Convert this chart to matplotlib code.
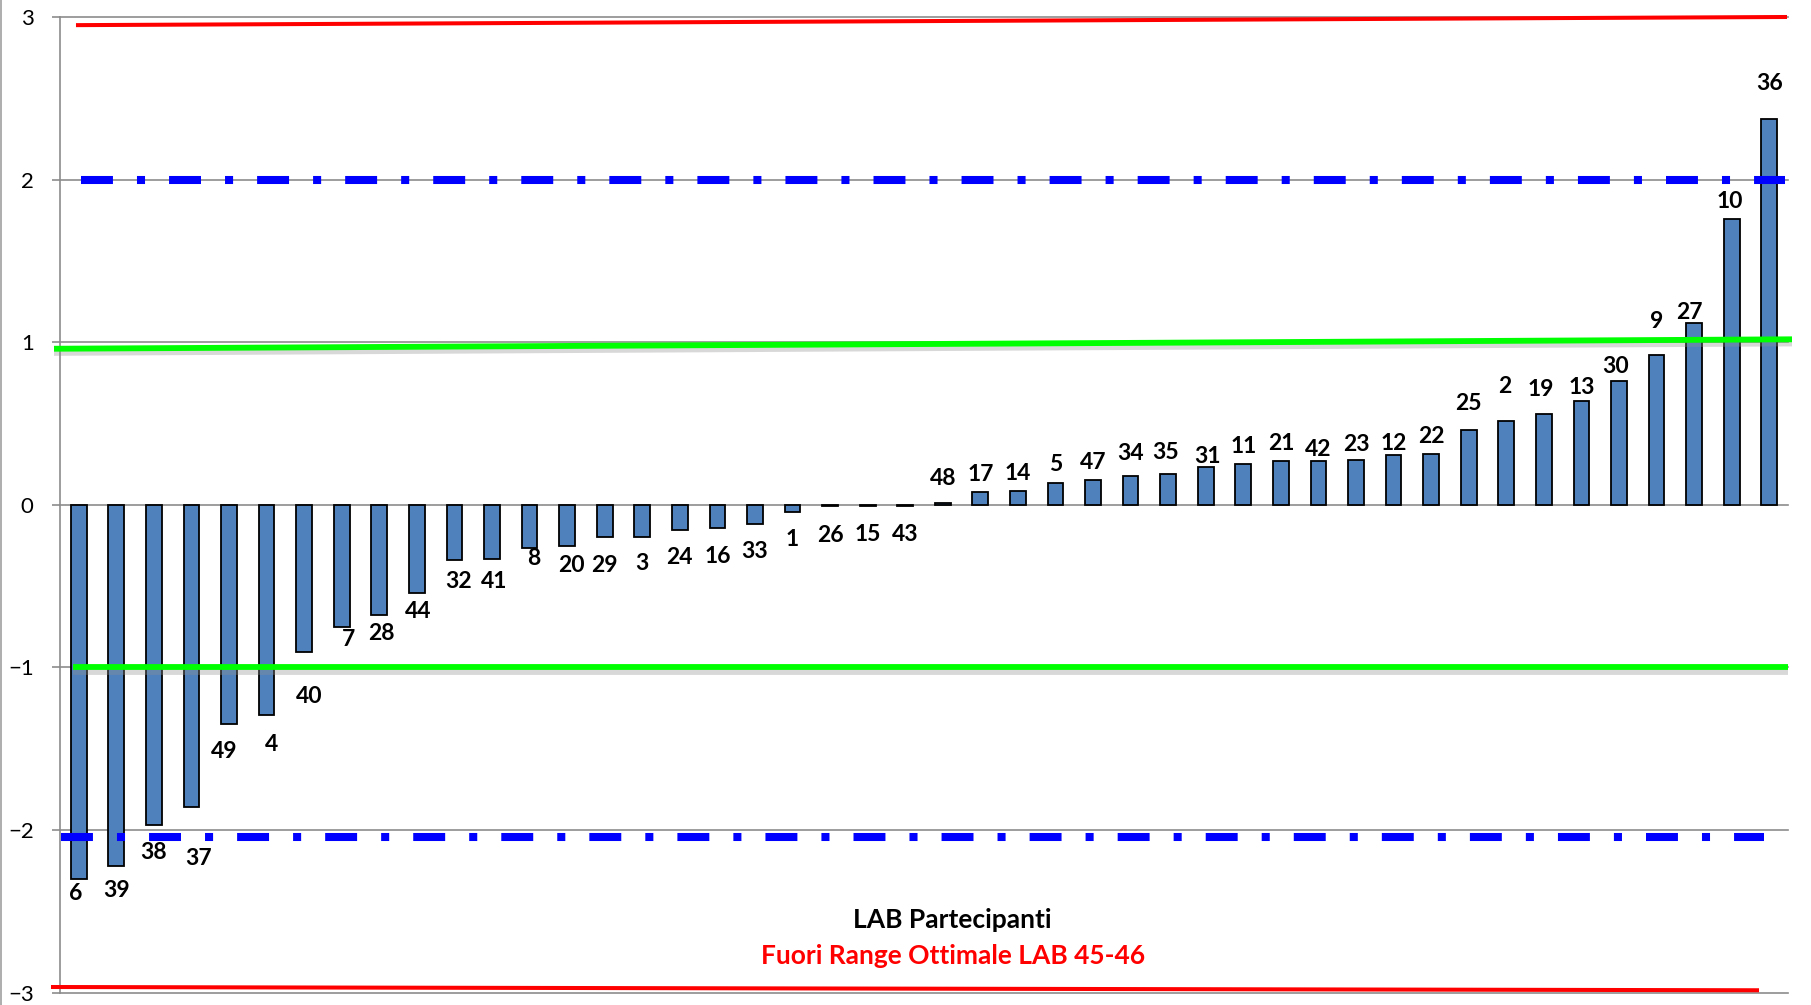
import numpy as np
import matplotlib.pyplot as plt
import matplotlib.patheffects as pe

plt.rcParams['font.family'] = ['Lato', 'DejaVu Sans']
plt.rcParams['lines.scale_dashes'] = False

# z-score per laboratorio, ordinati
labs = ['6', '39', '38', '37', '49', '4', '40', '7', '28', '44',
        '32', '41', '8', '20', '29', '3', '24', '16', '33', '1',
        '26', '15', '43', '48', '17', '14', '5', '47', '34', '35',
        '31', '11', '21', '42', '23', '12', '22', '25', '2', '19',
        '13', '30', '9', '27', '10', '36']
zscore = [-2.30, -2.22, -1.97, -1.86, -1.35, -1.29, -0.905, -0.75, -0.675, -0.544,
          -0.34, -0.335, -0.265, -0.25, -0.20, -0.195, -0.155, -0.145, -0.12, -0.045,
          -0.01, -0.01, -0.01, 0.01, 0.08, 0.084, 0.133, 0.15, 0.18, 0.19,
          0.235, 0.25, 0.27, 0.272, 0.275, 0.305, 0.315, 0.46, 0.515, 0.56,
          0.64, 0.76, 0.92, 1.12, 1.76, 2.37]

# livelli delle linee di riferimento (valore a sinistra, valore a destra)
red_top = (2.95, 3.0)
red_bot = (-2.965, -2.985)
green_top = (0.96, 1.018)
green_bot = (-1.0, -1.0)
blue_top = (1.995, 1.995)
blue_bot = (-2.04, -2.04)

# spostamento etichette in pixel (dx, distanza dal bordo della barra)
lab_dx = [-3, 0, 0, 7, -5, 5, 5, 7, 2, 1, 4, 2, 4, 4, 0, 0, 0, 0, 0, 0,
          0, 0, 0, 0, 0, 0, 0, 0, 0, -3, 2, 0, 0, 0, 0, 0, 0, 0, -2, -3,
          0, -3, 0, -5, -2, 0]
lab_dy = [15, 25, 27, 51, 27, 30, 44, 13, 19, 18, 21, 22, 11, 20, 28, 27, 27, 28, 27, 27,
          29, 28, 28, 25, 17, 18, 19, 18, 22, 21, 10, 18, 17, 11, 16, 12, 17, 27, 35, 24,
          13, 15, 34, 10, 17, 36]

W, H = 1811, 1005
fig = plt.figure(figsize=(W / 100, H / 100), dpi=100)
x0, x1, ytop, ybot = 60, 1788, 17, 992.7
ax = fig.add_axes([x0 / W, (H - ybot) / H, (x1 - x0) / W, (ybot - ytop) / H])

x = np.arange(len(labs))
ax.bar(x, zscore, width=0.42, color='#4F81BD', edgecolor='black', linewidth=1.3, zorder=2)

for xi, v, t, dx, dy in zip(x, zscore, labs, lab_dx, lab_dy):
    sgn = 1 if v >= 0 else -1
    ax.annotate(t, (xi, v), xytext=(dx, sgn * dy), textcoords='offset pixels',
                ha='center', va='center', fontsize=16.5, fontweight='bold', color='black')

ax.set_xlim(-0.5, len(labs) - 0.5)
ax.set_ylim(-3, 3)
ax.set_yticks(range(-3, 4))
ax.set_xticks([])
ax.set_axisbelow(True)
ax.yaxis.grid(True, color='#8C8C8C', linewidth=1.2)
for gl in ax.get_ygridlines():
    gl.set_clip_on(False)
for s in ['top', 'right', 'bottom']:
    ax.spines[s].set_visible(False)
ax.spines['left'].set_color('#8C8C8C')
ax.spines['left'].set_linewidth(1.2)
ax.tick_params(axis='y', length=6, width=1.2, color='#8C8C8C', pad=13, labelsize=16)

def px(p):
    # pixel orizzontale -> coordinata dati
    return (p - x0) / (x1 - x0) * len(labs) - 0.5

shadow = [pe.SimpleLineShadow(offset=(0, -3), shadow_color='#909090', alpha=0.35), pe.Normal()]

ax.plot([px(78), px(1785)], red_top, color='#FF0000', lw=2.9, clip_on=False, zorder=3)
ax.plot([px(53), px(1757)], red_bot, color='#FF0000', lw=2.9, clip_on=False, zorder=3)
ax.plot([px(54), px(1792)], green_top, color='#00FF00', lw=4.2, clip_on=False, zorder=3,
        solid_capstyle='butt', path_effects=shadow)
ax.plot([px(73), px(1788)], green_bot, color='#00FF00', lw=4.2, clip_on=False, zorder=3,
        solid_capstyle='butt', path_effects=shadow)
dash = (0, (23, 17.3, 5.8, 17.3))
ax.plot([px(81), px(1785)], blue_top, color='#0000FF', lw=5.8, dash_capstyle='butt',
        linestyle=dash, clip_on=False, zorder=3)
ax.plot([px(61), px(1764)], blue_bot, color='#0000FF', lw=5.8, dash_capstyle='butt',
        linestyle=dash, clip_on=False, zorder=3)

fig.text(952 / W, 1 - 920 / H, 'LAB Partecipanti', ha='center', va='center',
         fontsize=19, fontweight='bold', color='black')
fig.text(953 / W, 1 - 956 / H, 'Fuori Range Ottimale LAB 45-46', ha='center', va='center',
         fontsize=19, fontweight='bold', color='#FF0000')

# bordo sinistro
fig.add_artist(plt.Line2D([0.6 / W, 0.6 / W], [0, 1], color='#A0A0A0', lw=1.2))

fig.savefig('out.png', dpi=100)
